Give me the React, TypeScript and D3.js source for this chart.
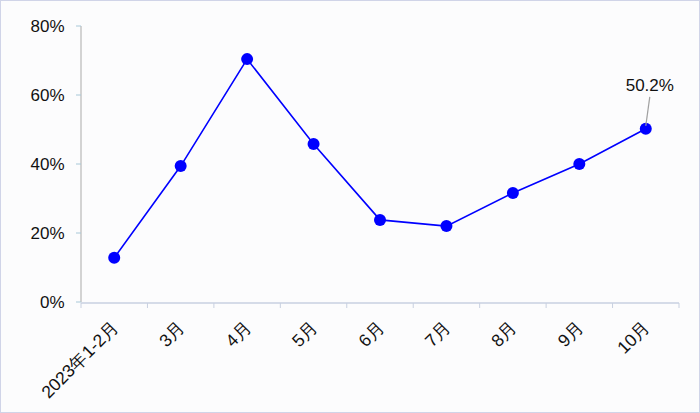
import React, { useEffect, useRef } from "react";
import * as d3 from "d3";

const categories = ["2023年1-2月", "3月", "4月", "5月", "6月", "7月", "8月", "9月", "10月"];
const values = [12.8, 39.4, 70.4, 45.8, 23.8, 22.0, 31.6, 40.0, 50.2];
const yTicks = [0, 20, 40, 60, 80];

export default function App() {
  const ref = useRef<SVGSVGElement>(null);
  useEffect(() => {
    const svg = d3.select(ref.current);
    svg.selectAll("*").remove();
    const W = 700, H = 413;
    const left = 81, right = 679, top = 26, bottom = 302;
    svg.append("rect").attr("x", 0.5).attr("y", 0.5).attr("width", W - 1).attr("height", H - 1)
      .attr("fill", "#fcfcfd").attr("stroke", "#d0d4e8").attr("stroke-width", 1);

    const x = d3.scaleBand<string>().domain(categories).range([left, right]).padding(0);
    const y = d3.scaleLinear().domain([0, 80]).range([bottom, top]);
    const font = "'Liberation Sans', Arial, sans-serif";

    // y axis
    svg.append("line").attr("x1", left).attr("x2", left).attr("y1", top).attr("y2", bottom)
      .attr("stroke", "#b8b8b8").attr("stroke-width", 1.2);
    yTicks.forEach(t => {
      svg.append("line").attr("x1", left - 5).attr("x2", left).attr("y1", y(t)).attr("y2", y(t))
        .attr("stroke", "#a8c8d8").attr("stroke-width", 1);
      svg.append("text").attr("x", 64.5).attr("y", y(t)).attr("dy", "0.36em")
        .attr("text-anchor", "end").attr("font-family", font).attr("font-size", 17)
        .attr("fill", "#111").text(t + "%");
    });
    // x axis
    svg.append("line").attr("x1", left).attr("x2", right).attr("y1", bottom + 1).attr("y2", bottom + 1)
      .attr("stroke", "#c8d0e0").attr("stroke-width", 1.5);
    const edges = categories.map(c => x(c)!).concat([right]);
    edges.forEach(e => {
      svg.append("line").attr("x1", e).attr("x2", e).attr("y1", bottom + 1).attr("y2", bottom + 6)
        .attr("stroke", "#c8d0e0").attr("stroke-width", 1);
    });
    categories.forEach(c => {
      const cx = x(c)! + x.bandwidth() / 2 + 1;
      svg.append("text").attr("transform", `translate(${cx},${bottom + 22}) rotate(-45)`)
        .attr("text-anchor", "end").attr("dy", "0.35em").attr("font-family", font)
        .attr("font-size", 17.5).attr("fill", "#111").text(c);
    });

    const cxOf = (c: string) => x(c)! + x.bandwidth() / 2;
    const line = d3.line<number>().x((_, i) => cxOf(categories[i])).y(v => y(v));
    svg.append("path").attr("d", line(values)!).attr("fill", "none")
      .attr("stroke", "#0000ff").attr("stroke-width", 1.6);
    values.forEach((v, i) => {
      svg.append("circle").attr("cx", cxOf(categories[i])).attr("cy", y(v)).attr("r", 6)
        .attr("fill", "#0000ff");
    });

    // annotation for last
    const li = values.length - 1;
    const lx = cxOf(categories[li]), ly = y(values[li]);
    svg.append("line").attr("x1", lx).attr("y1", ly - 3).attr("x2", lx + 4).attr("y2", ly - 32)
      .attr("stroke", "#a0a0a0").attr("stroke-width", 1.2);
    svg.append("text").attr("x", lx + 4).attr("y", ly - 38).attr("text-anchor", "middle")
      .attr("font-family", font).attr("font-size", 17).attr("fill", "#111")
      .text(values[li].toFixed(1) + "%");
  }, []);
  return (
    <svg ref={ref} width={700} height={413}
      style={{ position: "absolute", left: 0, top: 0, display: "block" }} />
  );
}
